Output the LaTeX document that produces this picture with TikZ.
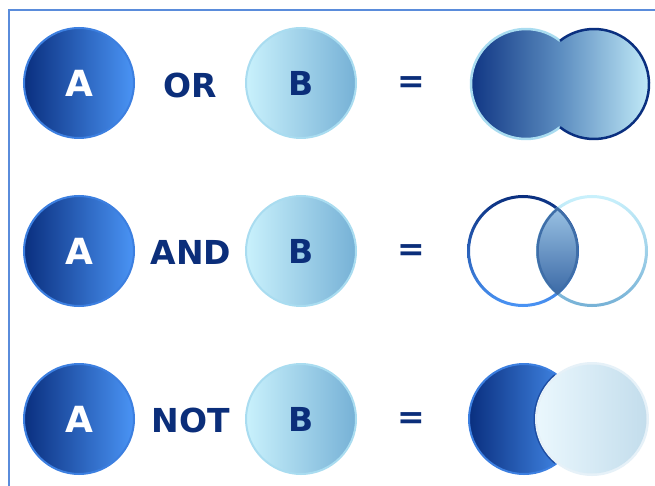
\documentclass[tikz,border=0pt]{standalone}
\usepackage{fontspec}
\setmainfont{DejaVu Sans}
\definecolor{navy}{HTML}{0B2E7A}
\definecolor{adark}{HTML}{0A2F7F}
\definecolor{alight}{HTML}{4A94F5}
\definecolor{aborder}{HTML}{3C7FE0}
\definecolor{bleft}{HTML}{C9F1FC}
\definecolor{bright}{HTML}{76B1D6}
\definecolor{bborder}{HTML}{A9DCF0}
\definecolor{framec}{HTML}{5A8CDB}
\definecolor{lensb}{HTML}{3F6EA8}
\definecolor{lenstop}{HTML}{A6CDEB}
\definecolor{lensbot}{HTML}{2F5E9E}
\definecolor{palel}{HTML}{EAF7FD}
\definecolor{paler}{HTML}{C3DDEC}
\definecolor{paleb}{HTML}{E6F1F8}
\definecolor{ormid}{HTML}{5C8DC0}
\tikzset{
  acirc/.style={circle, minimum size=110pt, inner sep=0pt, left color=adark, right color=alight, draw=aborder, line width=2pt, text=white, font=\bfseries\fontsize{36}{40}\selectfont},
  bcirc/.style={circle, minimum size=110pt, inner sep=0pt, left color=bleft, right color=bright, draw=bborder, line width=2pt, text=navy, font=\bfseries\fontsize{33}{36}\selectfont},
  optext/.style={text=navy, font=\bfseries\fontsize{33}{36}\selectfont, inner sep=0pt},
  eqtext/.style={text=navy, font=\bfseries\fontsize{33}{36}\selectfont, inner sep=0pt},
  orshade/.style={left color=adark, right color=bleft, middle color=ormid}
}
\begin{document}
\begin{tikzpicture}[x=1pt, y=-1pt]
\useasboundingbox (0,0) rectangle (655,486);
\fill[white] (0,0) rectangle (655,486);
% frame
\coordinate (fbl) at (9,486);
\coordinate (ftl) at (9,10);
\coordinate (ftr) at (655,10);
\draw[framec, line width=1.5pt] (fbl) -- (ftl) -- (ftr);

% ---------- Row 1: OR ----------
\node[acirc] (a1) at (79,83) {A};
\node[optext] (or) at (190,85) {OR};
\node[bcirc] (b1) at (301,83) {B};
\node[eqtext] (eq1) at (411,85) {=};
\coordinate (u1) at (526,84);
\coordinate (u2) at (594,84);
\coordinate (ut) at (560,40.77);
\coordinate (ub) at (560,127.23);
\shade[orshade] (ut) arc[start angle=-51.8, end angle=-308.2, radius=55]
  arc[start angle=128.2, end angle=-128.2, radius=55] -- cycle;
\draw[bborder, line width=2.5pt] (ut) arc[start angle=-51.8, end angle=-308.2, radius=55];
\draw[adark, line width=2.5pt] (ub) arc[start angle=128.2, end angle=-128.2, radius=55];

% ---------- Row 2: AND ----------
\node[acirc] (a2) at (79,251) {A};
\node[optext] (and) at (191,252) {AND};
\node[bcirc] (b2) at (301,251) {B};
\node[eqtext] (eq2) at (411,253) {=};
\coordinate (i1) at (523,251);
\coordinate (i2) at (592,251);
\shade[top color=adark, bottom color=alight, even odd rule] (i1) circle (56) (i1) circle (53);
\shade[top color=bleft, bottom color=bright, even odd rule] (i2) circle (56) (i2) circle (53);
\begin{scope}
  \clip (i1) circle (54.5);
  \shade[top color=lenstop, bottom color=lensbot] (i2) circle (54.5);
\end{scope}
\begin{scope}
  \clip (i1) circle (56);
  \draw[lensb, line width=2.5pt] (i2) circle (54.5);
\end{scope}
\begin{scope}
  \clip (i2) circle (56);
  \draw[lensb, line width=2.5pt] (i1) circle (54.5);
\end{scope}

% ---------- Row 3: NOT ----------
\node[acirc] (a3) at (79,419) {A};
\node[optext] (not) at (191,420) {NOT};
\node[bcirc] (b3) at (301,419) {B};
\node[eqtext] (eq3) at (411,421) {=};
\coordinate (n1) at (524,419);
\coordinate (n2) at (592,419);
\shade[left color=adark, right color=alight] (n1) circle (55);
\draw[aborder, line width=2pt] (n1) circle (55);
\begin{scope}
  \clip (n1) circle (54);
  \fill[adark!70!alight] (n2) circle (58.5);
\end{scope}
\fill[paleb] (n2) circle (57);
\shade[left color=palel, right color=paler] (n2) circle (54.5);
\end{tikzpicture}
\end{document}
